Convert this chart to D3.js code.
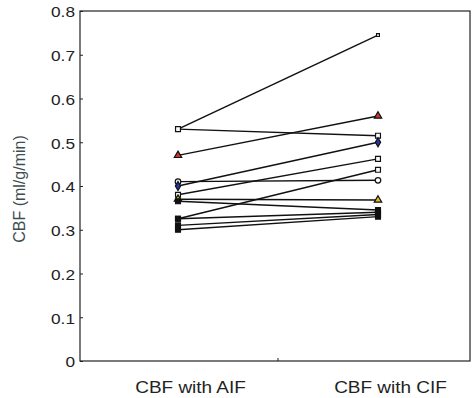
<!DOCTYPE html>
<html>
<head>
<meta charset="utf-8">
<script src="https://cdn.jsdelivr.net/npm/d3@7"></script>
<style>
  body { margin: 0; background: #fff; }
  text { font-family: "Liberation Sans", Arial, sans-serif; }
</style>
</head>
<body>
<div id="chart"></div>
<script>
// Data: one entry per subject, value with AIF and with CIF
const conditions = ['CBF with AIF', 'CBF with CIF'];
const cbfAIF = [0.53, 0.53, 0.47, 0.41, 0.40, 0.38, 0.37, 0.365, 0.325, 0.325, 0.31, 0.30];
const cbfCIF = [0.745, 0.515, 0.56, 0.413, 0.50, 0.462, 0.368, 0.345, 0.437, 0.34, 0.335, 0.33];
const markers = ['square', 'square', 'triangle', 'circle', 'diamond', 'square', 'triangle', 'square', 'square', 'square', 'square', 'square'];
const markerFill = ['none', 'none', '#c33', 'none', '#2233aa', 'none', '#e0c020', '#111', 'none', '#111', '#111', '#111'];
const yTicks = [0, 0.1, 0.2, 0.3, 0.4, 0.5, 0.6, 0.7, 0.8];

const width = 473, height = 398;
const box = { left: 80, right: 470, top: 11, bottom: 361 };
const stretch = 1.15; // labels look a bit wide in the original

const svg = d3.select('#chart').append('svg')
  .attr('width', width)
  .attr('height', height);

const xScale = d3.scaleLinear().domain([0.51, 2.46]).range([box.left, box.right]);
const yScale = d3.scaleLinear().domain([0, 0.8]).range([box.bottom, box.top]);

// frame
svg.append('rect')
  .attr('x', box.left).attr('y', box.top)
  .attr('width', box.right - box.left).attr('height', box.bottom - box.top)
  .attr('fill', 'none').attr('stroke', '#222').attr('stroke-width', 1.2);

// y axis (ticks pointing inward)
const yAxis = d3.axisLeft(yScale).tickValues(yTicks).tickSize(-3).tickPadding(5)
  .tickFormat(d => d === 0 ? '0' : d3.format('.1f')(d));
const yG = svg.append('g').attr('transform', `translate(${box.left},0)`).call(yAxis);
yG.select('.domain').remove();
yG.selectAll('line').attr('stroke', '#222');
yG.selectAll('text')
  .attr('x', null)
  .attr('transform', `translate(-5,1) scale(${stretch},1)`)
  .attr('font-size', 15).attr('fill', '#222')
  .attr('font-family', '"Liberation Sans", Arial, sans-serif');

// x axis: labels under categories (sit a little right of the points), one inner tick in the middle
const xAxis = d3.axisBottom(xScale).tickValues([1, 2]).tickSize(0).tickPadding(0)
  .tickFormat((d, i) => conditions[i]);
const xG = svg.append('g').attr('transform', `translate(0,${box.bottom})`).call(xAxis);
xG.select('.domain').remove();
xG.selectAll('text')
  .attr('y', null).attr('dy', null)
  .attr('transform', `translate(12,32) scale(${stretch},1)`)
  .attr('font-size', 16.5).attr('fill', '#222')
  .attr('font-family', '"Liberation Sans", Arial, sans-serif');
svg.append('line')
  .attr('x1', xScale(1.5)).attr('x2', xScale(1.5))
  .attr('y1', box.bottom).attr('y2', box.bottom - 3)
  .attr('stroke', '#222');

// y label
svg.append('text')
  .attr('transform', `translate(25,${(box.top + box.bottom) / 2 + 3}) rotate(-90)`)
  .attr('text-anchor', 'middle')
  .attr('font-size', 16)
  .attr('fill', '#3d4d4d')
  .text('CBF (ml/g/min)');

// subject lines
const pairs = cbfAIF.map((v, i) => [{ x: 1, y: v }, { x: 2, y: cbfCIF[i] }]);
const line = d3.line().x(d => xScale(d.x)).y(d => yScale(d.y));

svg.append('g').selectAll('path')
  .data(pairs)
  .join('path')
  .attr('d', line)
  .attr('fill', 'none')
  .attr('stroke', '#111')
  .attr('stroke-width', 1.5);

const symbolType = {
  square: d3.symbolSquare,
  triangle: d3.symbolTriangle,
  circle: d3.symbolCircle,
  diamond: d3.symbolDiamond
};

pairs.forEach((p, i) => {
  svg.append('g').selectAll('path')
    .data(p)
    .join('path')
    .attr('transform', d => `translate(${xScale(d.x)},${yScale(d.y)})`)
    .attr('d', d3.symbol().type(symbolType[markers[i]]).size(i === 0 ? 8 : 24))
    .attr('fill', markerFill[i] === 'none' ? '#fff' : markerFill[i])
    .attr('stroke', '#111')
    .attr('stroke-width', 1.2);
});
</script>
</body>
</html>
